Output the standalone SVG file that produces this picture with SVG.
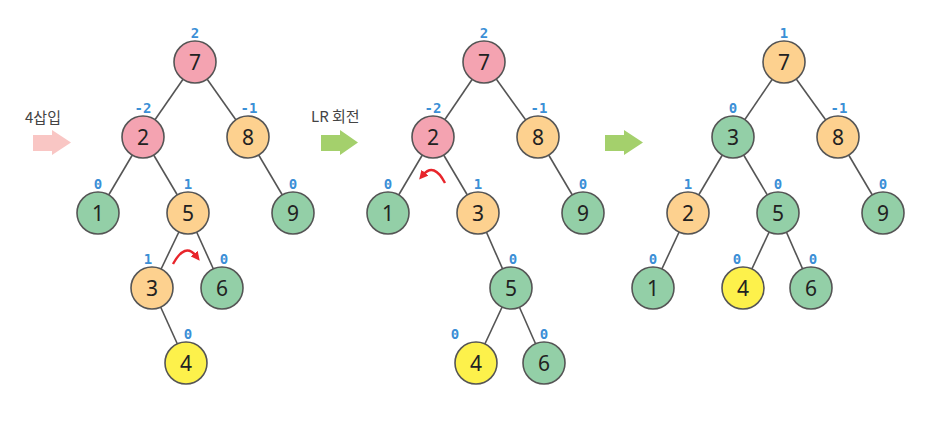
<svg xmlns="http://www.w3.org/2000/svg" width="940" height="441" viewBox="0 0 940 441">
<style>
.e{stroke:#555;stroke-width:1.6;fill:none}
.n circle{stroke:#555;stroke-width:1.6}
.n text.v{font-family:"Noto Sans","Open Sans",sans-serif;font-size:21px;fill:#222;text-anchor:middle;dominant-baseline:central}
.pk{fill:#f4a3b1}.or{fill:#fdd18f}.gr{fill:#93cfa7}.ye{fill:#fdf14b}
.n text.b{font-family:"DejaVu Sans Mono",monospace;font-weight:bold;font-size:14px;fill:#3b8fd6;text-anchor:middle}
.lbl{font-family:"Noto Sans CJK KR","Noto Sans",sans-serif;font-size:15px;fill:#444}
.rot{stroke:#e8252b;stroke-width:2.4;fill:none}
</style>
<defs>
<marker id="ah" markerWidth="9" markerHeight="9" refX="3" refY="4.5" orient="auto" markerUnits="userSpaceOnUse" viewBox="0 0 9 9">
<path d="M0,0 L9,4.5 L0,9 z" fill="#e8252b"/>
</marker>
</defs>
<g id="connectors">
<line class="e" x1="195" y1="62" x2="143" y2="137"/>
<line class="e" x1="195" y1="62" x2="248" y2="137"/>
<line class="e" x1="143" y1="137" x2="98" y2="213"/>
<line class="e" x1="143" y1="137" x2="188" y2="213"/>
<line class="e" x1="248" y1="137" x2="293" y2="213"/>
<line class="e" x1="188" y1="213" x2="152" y2="288"/>
<line class="e" x1="188" y1="213" x2="222" y2="288"/>
<line class="e" x1="152" y1="288" x2="186" y2="363"/>
<line class="e" x1="484" y1="62" x2="433" y2="137"/>
<line class="e" x1="484" y1="62" x2="538" y2="137"/>
<line class="e" x1="433" y1="137" x2="388" y2="213"/>
<line class="e" x1="433" y1="137" x2="478" y2="213"/>
<line class="e" x1="538" y1="137" x2="583" y2="213"/>
<line class="e" x1="478" y1="213" x2="511" y2="288"/>
<line class="e" x1="511" y1="288" x2="476" y2="363"/>
<line class="e" x1="511" y1="288" x2="544" y2="363"/>
<line class="e" x1="784" y1="62" x2="733" y2="137"/>
<line class="e" x1="784" y1="62" x2="838" y2="137"/>
<line class="e" x1="733" y1="137" x2="688" y2="213"/>
<line class="e" x1="733" y1="137" x2="778" y2="213"/>
<line class="e" x1="838" y1="137" x2="883" y2="213"/>
<line class="e" x1="688" y1="213" x2="653" y2="288"/>
<line class="e" x1="778" y1="213" x2="743" y2="288"/>
<line class="e" x1="778" y1="213" x2="811" y2="288"/>
</g>
<g id="arrows">
<text class="lbl" x="25" y="123">4삽입</text>
<polygon fill="#f9c6c4" points="33,135 52,135 52,130 71,142.5 52,155 52,151 33,151"/>
<text class="lbl" x="311" y="122">LR 회전</text>
<polygon fill="#a4d06c" points="321,135 340,135 340,130 358,142.5 340,155 340,151 321,151"/>
<polygon fill="#a4d06c" points="605,135 624,135 624,130 643,142.5 624,155 624,151 605,151"/>
<path class="rot" d="M173,264 Q185,242 196,256" marker-end="url(#ah)"/>
<path class="rot" d="M445,183 Q434,162 423,175" marker-end="url(#ah)"/>
</g>
<g id="t1-7" class="n"><circle class="pk" cx="195" cy="62" r="21"/><text class="v" x="195" y="62">7</text><text class="b" x="195" y="38">2</text></g>
<g id="t1-2" class="n"><circle class="pk" cx="143" cy="137" r="21"/><text class="v" x="143" y="137">2</text><text class="b" x="143" y="113">-2</text></g>
<g id="t1-8" class="n"><circle class="or" cx="248" cy="137" r="21"/><text class="v" x="248" y="137">8</text><text class="b" x="249" y="113">-1</text></g>
<g id="t1-1" class="n"><circle class="gr" cx="98" cy="213" r="21"/><text class="v" x="98" y="213">1</text><text class="b" x="98" y="189">0</text></g>
<g id="t1-5" class="n"><circle class="or" cx="188" cy="213" r="21"/><text class="v" x="188" y="213">5</text><text class="b" x="188" y="189">1</text></g>
<g id="t1-9" class="n"><circle class="gr" cx="293" cy="213" r="21"/><text class="v" x="293" y="213">9</text><text class="b" x="293" y="189">0</text></g>
<g id="t1-3" class="n"><circle class="or" cx="152" cy="288" r="21"/><text class="v" x="152" y="288">3</text><text class="b" x="148" y="264">1</text></g>
<g id="t1-6" class="n"><circle class="gr" cx="222" cy="288" r="21"/><text class="v" x="222" y="288">6</text><text class="b" x="224" y="264">0</text></g>
<g id="t1-4" class="n"><circle class="ye" cx="186" cy="363" r="21"/><text class="v" x="186" y="363">4</text><text class="b" x="188" y="339">0</text></g>
<g id="t2-7" class="n"><circle class="pk" cx="484" cy="62" r="21"/><text class="v" x="484" y="62">7</text><text class="b" x="484" y="38">2</text></g>
<g id="t2-2" class="n"><circle class="pk" cx="433" cy="137" r="21"/><text class="v" x="433" y="137">2</text><text class="b" x="433" y="113">-2</text></g>
<g id="t2-8" class="n"><circle class="or" cx="538" cy="137" r="21"/><text class="v" x="538" y="137">8</text><text class="b" x="539" y="113">-1</text></g>
<g id="t2-1" class="n"><circle class="gr" cx="388" cy="213" r="21"/><text class="v" x="388" y="213">1</text><text class="b" x="388" y="189">0</text></g>
<g id="t2-3" class="n"><circle class="or" cx="478" cy="213" r="21"/><text class="v" x="478" y="213">3</text><text class="b" x="478" y="189">1</text></g>
<g id="t2-9" class="n"><circle class="gr" cx="583" cy="213" r="21"/><text class="v" x="583" y="213">9</text><text class="b" x="583" y="189">0</text></g>
<g id="t2-5" class="n"><circle class="gr" cx="511" cy="288" r="21"/><text class="v" x="511" y="288">5</text><text class="b" x="513" y="264">0</text></g>
<g id="t2-4" class="n"><circle class="ye" cx="476" cy="363" r="21"/><text class="v" x="476" y="363">4</text><text class="b" x="455" y="339">0</text></g>
<g id="t2-6" class="n"><circle class="gr" cx="544" cy="363" r="21"/><text class="v" x="544" y="363">6</text><text class="b" x="544" y="339">0</text></g>
<g id="t3-7" class="n"><circle class="or" cx="784" cy="62" r="21"/><text class="v" x="784" y="62">7</text><text class="b" x="784" y="38">1</text></g>
<g id="t3-3" class="n"><circle class="gr" cx="733" cy="137" r="21"/><text class="v" x="733" y="137">3</text><text class="b" x="733" y="113">0</text></g>
<g id="t3-8" class="n"><circle class="or" cx="838" cy="137" r="21"/><text class="v" x="838" y="137">8</text><text class="b" x="839" y="113">-1</text></g>
<g id="t3-2" class="n"><circle class="or" cx="688" cy="213" r="21"/><text class="v" x="688" y="213">2</text><text class="b" x="688" y="189">1</text></g>
<g id="t3-5" class="n"><circle class="gr" cx="778" cy="213" r="21"/><text class="v" x="778" y="213">5</text><text class="b" x="778" y="189">0</text></g>
<g id="t3-9" class="n"><circle class="gr" cx="883" cy="213" r="21"/><text class="v" x="883" y="213">9</text><text class="b" x="883" y="189">0</text></g>
<g id="t3-1" class="n"><circle class="gr" cx="653" cy="288" r="21"/><text class="v" x="653" y="288">1</text><text class="b" x="653" y="264">0</text></g>
<g id="t3-4" class="n"><circle class="ye" cx="743" cy="288" r="21"/><text class="v" x="743" y="288">4</text><text class="b" x="737" y="264">0</text></g>
<g id="t3-6" class="n"><circle class="gr" cx="811" cy="288" r="21"/><text class="v" x="811" y="288">6</text><text class="b" x="813" y="264">0</text></g>
</svg>
